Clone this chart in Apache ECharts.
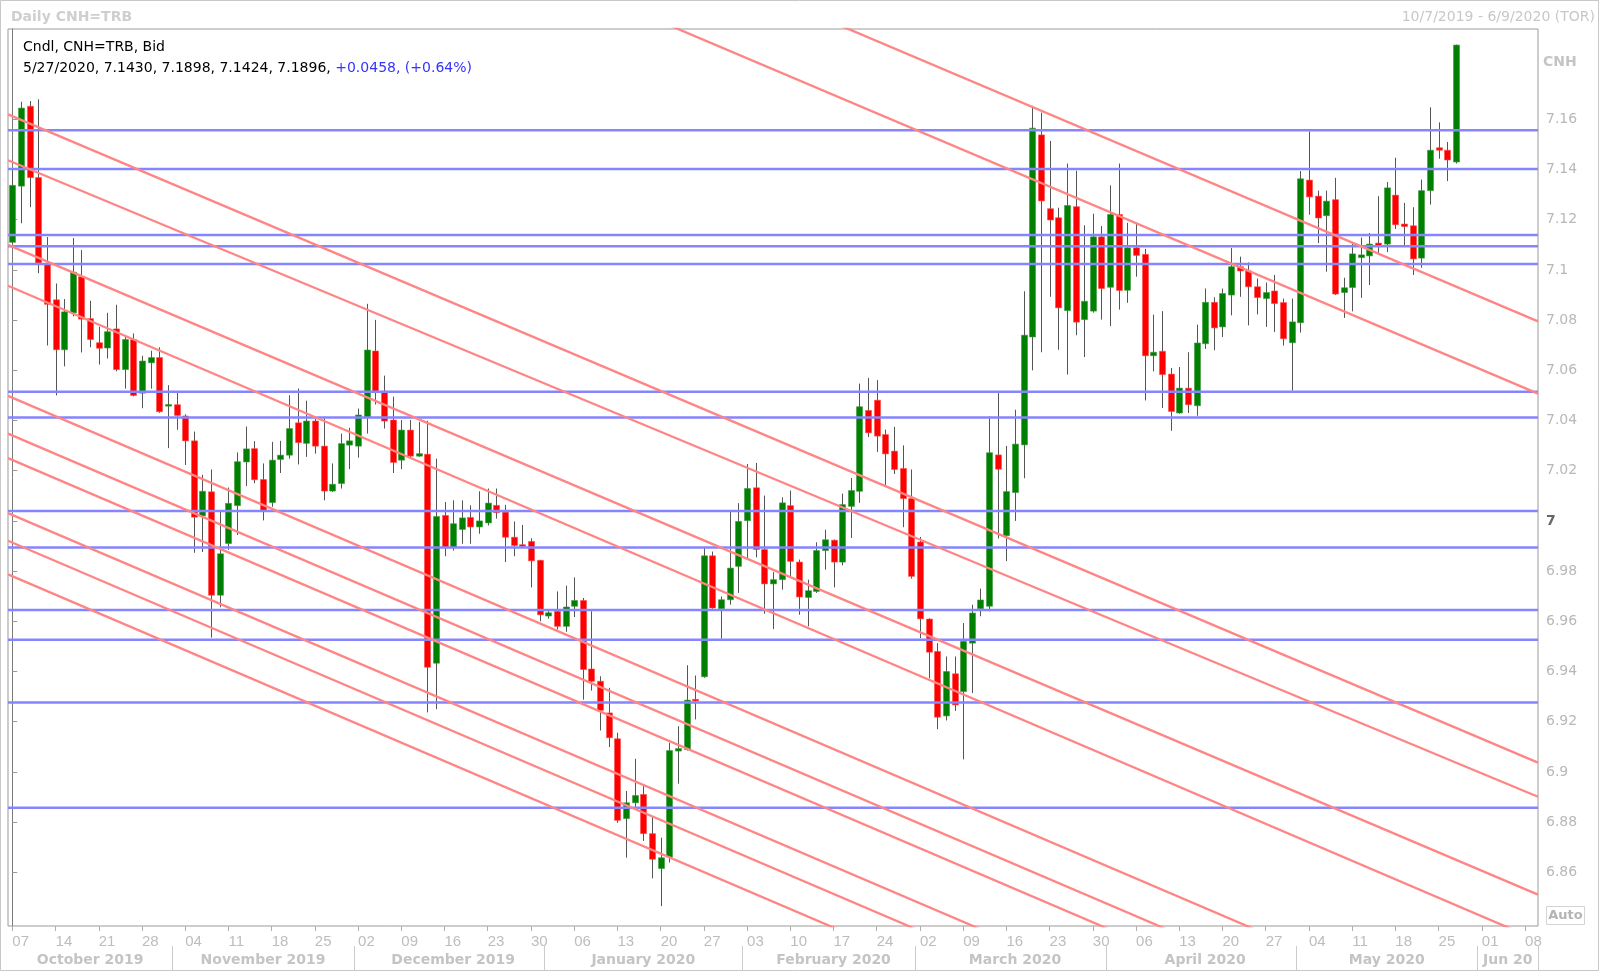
<!DOCTYPE html>
<html><head><meta charset="utf-8">
<script src="https://cdn.jsdelivr.net/npm/echarts@6/dist/echarts.min.js"></script>
<style>html,body{margin:0;padding:0;background:#fff}#c{width:1600px;height:972px}</style>
</head><body><div id="c"></div>
<script>
// ---------------- DATA ----------------
const dates = [
"2019-10-07","2019-10-08","2019-10-09","2019-10-10","2019-10-11","2019-10-14","2019-10-15","2019-10-16","2019-10-17","2019-10-18",
"2019-10-21","2019-10-22","2019-10-23","2019-10-24","2019-10-25","2019-10-28","2019-10-29","2019-10-30","2019-10-31",
"2019-11-01","2019-11-04","2019-11-05","2019-11-06","2019-11-07","2019-11-08","2019-11-11","2019-11-12","2019-11-13","2019-11-14","2019-11-15",
"2019-11-18","2019-11-19","2019-11-20","2019-11-21","2019-11-22","2019-11-25","2019-11-26","2019-11-27","2019-11-28","2019-11-29",
"2019-12-02","2019-12-03","2019-12-04","2019-12-05","2019-12-06","2019-12-09","2019-12-10","2019-12-11","2019-12-12","2019-12-13",
"2019-12-16","2019-12-17","2019-12-18","2019-12-19","2019-12-20","2019-12-23","2019-12-24","2019-12-25","2019-12-26","2019-12-27","2019-12-30","2019-12-31",
"2020-01-01","2020-01-02","2020-01-03","2020-01-06","2020-01-07","2020-01-08","2020-01-09","2020-01-10","2020-01-13","2020-01-14",
"2020-01-15","2020-01-16","2020-01-17","2020-01-20","2020-01-21","2020-01-22","2020-01-23","2020-01-24","2020-01-27","2020-01-28","2020-01-29","2020-01-30","2020-01-31",
"2020-02-03","2020-02-04","2020-02-05","2020-02-06","2020-02-07","2020-02-10","2020-02-11","2020-02-12","2020-02-13","2020-02-14",
"2020-02-17","2020-02-18","2020-02-19","2020-02-20","2020-02-21","2020-02-24","2020-02-25","2020-02-26","2020-02-27","2020-02-28",
"2020-03-02","2020-03-03","2020-03-04","2020-03-05","2020-03-06","2020-03-09","2020-03-10","2020-03-11","2020-03-12","2020-03-13",
"2020-03-16","2020-03-17","2020-03-18","2020-03-19","2020-03-20","2020-03-23","2020-03-24","2020-03-25","2020-03-26","2020-03-27","2020-03-30","2020-03-31",
"2020-04-01","2020-04-02","2020-04-03","2020-04-06","2020-04-07","2020-04-08","2020-04-09","2020-04-10","2020-04-13","2020-04-14",
"2020-04-15","2020-04-16","2020-04-17","2020-04-20","2020-04-21","2020-04-22","2020-04-23","2020-04-24","2020-04-27","2020-04-28","2020-04-29","2020-04-30",
"2020-05-01","2020-05-04","2020-05-05","2020-05-06","2020-05-07","2020-05-08","2020-05-11","2020-05-12","2020-05-13","2020-05-14",
"2020-05-15","2020-05-18","2020-05-19","2020-05-20","2020-05-21","2020-05-22","2020-05-25","2020-05-26","2020-05-27"
];
const futureDates = ["2020-05-28","2020-05-29","2020-06-01","2020-06-02","2020-06-03","2020-06-04","2020-06-05","2020-06-08","2020-06-09"];

const open = [
7.1110,7.1334,7.1652,7.1368,7.1021,7.0881,7.0682,7.0829,7.0973,7.0806,
7.0710,7.0689,7.0765,7.0603,7.0723,7.0509,7.0630,7.0651,7.0459,7.0463,
7.0418,7.0319,7.0020,7.0116,6.9704,6.9910,7.0061,7.0235,7.0288,7.0165,
7.0073,7.0245,7.0262,7.0391,7.0309,7.0398,7.0298,7.0119,7.0149,7.0302,
7.0298,7.0411,7.0677,7.0517,7.0402,7.0242,7.0362,7.0258,7.0266,6.9433,
7.0022,6.9893,6.9966,7.0014,6.9976,6.9992,7.0062,7.0035,6.9935,6.9904,
6.9918,6.9843,6.9621,6.9640,6.9580,6.9660,6.9683,6.9410,6.9361,6.9235,
6.9132,6.8814,6.8877,6.8910,6.8754,6.8615,6.8661,6.9083,6.9089,6.9287,
6.9379,6.9861,6.9650,6.9686,6.9819,7.0001,7.0132,6.9886,6.9749,6.9766,
7.0061,6.9836,6.9695,6.9719,6.9882,6.9923,6.9836,7.0058,7.0118,7.0440,
7.0481,7.0344,7.0278,7.0209,7.0089,6.9916,6.9609,6.9480,6.9223,6.9391,
6.9320,6.9513,6.9650,6.9660,7.0263,6.9941,7.0113,7.0303,7.0733,7.1538,
7.1244,7.1208,7.0838,7.1252,7.0802,7.0836,7.1132,7.0931,7.1221,7.0919,
7.1088,7.1062,7.0658,7.0676,7.0585,7.0430,7.0529,7.0459,7.0706,7.0871,
7.0773,7.0900,7.1013,7.0996,7.0933,7.0886,7.0916,7.0870,7.0710,7.0790,
7.1358,7.1294,7.1216,7.1280,7.0910,7.0930,7.1049,7.1056,7.1107,7.1103,
7.1298,7.1183,7.1176,7.1047,7.1316,7.1487,7.1477,7.1430
];
const high = [
7.1396,7.1670,7.1673,7.1680,7.1131,7.0946,7.0884,7.1127,7.1079,7.0877,
7.0774,7.0829,7.0861,7.0737,7.0747,7.0658,7.0678,7.0692,7.0541,7.0511,
7.0425,7.0356,7.0184,7.0205,7.0037,7.0133,7.0273,7.0376,7.0318,7.0229,
7.0315,7.0319,7.0501,7.0528,7.0479,7.0415,7.0415,7.0229,7.0348,7.0371,
7.0448,7.0865,7.0801,7.0579,7.0495,7.0402,7.0402,7.0395,7.0399,7.0248,
7.0075,7.0082,7.0082,7.0062,7.0118,7.0129,7.0129,7.0064,6.9998,6.9984,
6.9931,6.9845,6.9642,6.9719,6.9742,6.9775,6.9693,6.9640,6.9381,6.9335,
6.9156,6.8924,6.9052,6.8950,6.8824,6.8738,6.9116,6.9182,6.9425,6.9384,
6.9892,6.9878,6.9699,7.0038,7.0071,7.0227,7.0231,7.0101,6.9796,7.0094,
7.0121,6.9846,6.9766,6.9915,6.9965,6.9926,7.0109,7.0171,7.0547,7.0570,
7.0561,7.0364,7.0375,7.0301,7.0205,6.9936,6.9612,6.9513,6.9460,6.9460,
6.9593,6.9666,6.9730,7.0416,7.0509,7.0299,7.0443,7.0915,7.1654,7.1627,
7.1514,7.1248,7.1424,7.1395,7.1178,7.1224,7.1175,7.1337,7.1424,7.1188,
7.1188,7.1084,7.0822,7.0836,7.0609,7.0613,7.0672,7.0782,7.0926,7.0891,
7.0926,7.1087,7.1053,7.1030,7.0966,7.0950,7.0980,7.0886,7.0886,7.1394,
7.1552,7.1316,7.1316,7.1367,7.0969,7.1111,7.1129,7.1147,7.1294,7.1350,
7.1447,7.1267,7.1250,7.1360,7.1648,7.1588,7.1510,7.1898
];
const low = [
7.1105,7.1186,7.1250,7.0987,7.0699,7.0500,7.0616,7.0815,7.0671,7.0692,
7.0623,7.0647,7.0596,7.0527,7.0496,7.0449,7.0527,7.0431,7.0290,7.0363,
7.0223,6.9873,6.9876,6.9535,6.9656,6.9885,6.9944,7.0139,7.0150,7.0002,
7.0056,7.0191,7.0248,7.0225,7.0255,7.0268,7.0082,7.0115,7.0129,7.0206,
7.0252,7.0348,7.0464,7.0368,7.0191,7.0206,7.0248,7.0256,6.9237,6.9250,
6.9859,6.9882,6.9909,6.9909,6.9949,6.9982,7.0009,6.9836,6.9859,6.9892,
6.9735,6.9600,6.9611,6.9567,6.9558,6.9617,6.9288,6.9324,6.9165,6.9099,
6.8797,6.8658,6.8851,6.8725,6.8576,6.8465,6.8639,6.8953,6.9085,6.9209,
6.9375,6.9650,6.9531,6.9666,6.9713,6.9852,6.9855,6.9630,6.9569,6.9726,
6.9779,6.9626,6.9580,6.9713,6.9806,6.9735,6.9823,6.9932,7.0072,7.0334,
7.0275,7.0141,7.0187,6.9975,6.9770,6.9533,6.9373,6.9170,6.9205,6.9243,
6.9050,6.9314,6.9620,6.9640,6.9930,6.9840,7.0000,7.0170,7.0600,7.0672,
7.0893,7.0682,7.0583,7.0740,7.0653,7.0830,7.0802,7.0776,7.0842,7.0869,
7.0973,7.0480,7.0596,7.0450,7.0359,7.0427,7.0430,7.0419,7.0685,7.0680,
7.0733,7.0819,7.0893,7.0779,7.0823,7.0773,7.0753,7.0699,7.0519,7.0750,
7.1220,7.1107,7.0993,7.0900,7.0809,7.0835,7.0889,7.0940,7.1063,7.1071,
7.1163,7.1093,7.0980,7.1009,7.1260,7.1443,7.1354,7.1424
];
const close = [
7.1337,7.1645,7.1368,7.1028,7.0863,7.0682,7.0833,7.0991,7.0804,7.0723,
7.0688,7.0754,7.0603,7.0723,7.0500,7.0637,7.0651,7.0435,7.0462,7.0420,
7.0319,7.0015,7.0118,6.9704,6.9869,7.0070,7.0236,7.0287,7.0164,7.0042,
7.0242,7.0262,7.0368,7.0312,7.0398,7.0298,7.0119,7.0146,7.0308,7.0319,
7.0422,7.0681,7.0517,7.0398,7.0233,7.0362,7.0258,7.0268,6.9417,7.0018,
6.9893,6.9989,7.0012,6.9976,7.0000,7.0071,7.0033,6.9935,6.9902,6.9900,
6.9841,6.9626,6.9634,6.9580,6.9657,6.9683,6.9408,6.9361,6.9245,6.9136,
6.8807,6.8877,6.8906,6.8754,6.8652,6.8658,6.9085,6.9093,6.9286,6.9285,
6.9861,6.9653,6.9686,6.9812,6.9998,7.0129,6.9886,6.9749,6.9766,7.0072,
6.9839,6.9697,6.9722,6.9882,6.9925,6.9836,7.0065,7.0121,7.0455,7.0351,
7.0338,7.0267,7.0205,7.0089,6.9779,6.9610,6.9477,6.9218,6.9400,6.9267,
6.9520,6.9633,6.9685,7.0272,7.0206,7.0117,7.0306,7.0740,7.1565,7.1275,
7.1199,7.0849,7.1257,7.0792,7.0875,7.1132,7.0926,7.1221,7.0918,7.1088,
7.1058,7.0658,7.0672,7.0583,7.0436,7.0529,7.0463,7.0709,7.0871,7.0769,
7.0906,7.1013,7.0996,7.0933,7.0890,7.0910,7.0866,7.0726,7.0793,7.1363,
7.1291,7.1207,7.1274,7.0904,7.0929,7.1064,7.1060,7.1103,7.1096,7.1327,
7.1180,7.1173,7.1044,7.1316,7.1477,7.1477,7.1438,7.1896
];

// horizontal support / resistance levels (blue)
const levels = [7.1557,7.1402,7.1139,7.1094,7.1024,7.0515,7.0412,7.0040,6.9894,6.9645,6.9527,6.9277,6.8857];
// diagonal trend lines (red): value at left plot edge, value at right plot edge
const trendLines = [
  [7.3092,7.0507],[7.3380,7.0795],[7.1620,6.9037],[7.1437,6.8901],[7.1100,6.8511],[7.0937,6.8329],
  [7.0498,6.7890],[7.0348,6.7740],[7.0250,6.7642],[7.0031,6.7423],[6.9921,6.7313],[6.9787,6.7179]
];
const yTicks = [6.86,6.88,6.90,6.92,6.94,6.96,6.98,7.00,7.02,7.04,7.06,7.08,7.10,7.12,7.14,7.16];
const yMin = 6.8386, yMax = 7.1960;

// ---------------- BUILD ----------------
const FONT = '"DejaVu Sans", Verdana, sans-serif';
const axisDates = dates.concat(futureDates);
const N = axisDates.length;
const monthNames = ['January','February','March','April','May','June','July','August','September','October','November','December'];
const isMonday = s => new Date(s + 'T00:00:00Z').getUTCDay() === 1;
const monthStart = axisDates.map((d, i) => i > 0 && d.slice(0, 7) !== axisDates[i - 1].slice(0, 7));
const spans = {};
axisDates.forEach((d, i) => { const k = d.slice(0, 7); (spans[k] = spans[k] || []).push(i); });
const monthLabel = {};
Object.keys(spans).forEach(k => {
  const arr = spans[k];
  const mid = arr[Math.floor(arr.length / 2)];
  const y = k.slice(0, 4), m = +k.slice(5, 7) - 1;
  monthLabel[mid] = arr.length < 10 ? monthNames[m].slice(0, 3) + ' ' + y.slice(2) : monthNames[m] + ' ' + y;
});

const candleData = dates.map((d, i) => [i, open[i], high[i], low[i], close[i]]);
const last = dates.length - 1;
const chg = close[last] - close[last - 1];
const pct = chg / close[last - 1] * 100;
const dParts = dates[last].split('-');
const hdrDate = (+dParts[1]) + '/' + (+dParts[2]) + '/' + dParts[0];
const sgn = v => (v >= 0 ? '+' : '') ;
const hdrLine = hdrDate + ', ' + open[last].toFixed(4) + ', ' + high[last].toFixed(4) + ', ' + low[last].toFixed(4) + ', ' + close[last].toFixed(4) + ', ';
const hdrChg = sgn(chg) + chg.toFixed(4) + ', (' + sgn(pct) + pct.toFixed(2) + '%)';

const lineSeries = [];
levels.forEach(v => lineSeries.push({
  type: 'line', xAxisIndex: 2, yAxisIndex: 0, data: [[-0.5, v], [N - 0.5, v]],
  symbol: 'none', silent: true, clip: true, z: 4,
  lineStyle: { color: '#8585ff', width: 2.5 }
}));
trendLines.forEach(t => lineSeries.push({
  type: 'line', xAxisIndex: 2, yAxisIndex: 0, data: [[-0.5, t[0]], [N - 0.5, t[1]]],
  symbol: 'none', silent: true, clip: true, z: 4,
  lineStyle: { color: '#ff8585', width: 2.3 }
}));

const chart = echarts.init(document.getElementById('c'), null, { renderer: 'canvas' });
chart.setOption({
  animation: false,
  backgroundColor: '#ffffff',
  textStyle: { fontFamily: FONT },
  grid: { left: 8, right: 62, top: 29, bottom: 46, show: true, borderColor: '#9a9a9a', borderWidth: 1, backgroundColor: '#fff' },
  xAxis: [
    {
      type: 'category', data: axisDates, boundaryGap: true, position: 'bottom',
      axisLine: { show: false },
      axisTick: { show: true, alignWithLabel: true, length: 5, interval: (i, v) => isMonday(v), lineStyle: { color: '#b0b0b0' } },
      axisLabel: { show: true, interval: (i, v) => isMonday(v), formatter: v => v.slice(8, 10), align: 'left', margin: 8,
        color: '#bdbdbd', fontSize: 15, fontFamily: '"Liberation Sans Narrow", "Liberation Sans", sans-serif' },
      splitLine: { show: false }
    },
    {
      type: 'category', data: axisDates, boundaryGap: true, position: 'bottom', offset: 20,
      axisLine: { show: false },
      axisTick: { show: true, alignWithLabel: false, length: 24, interval: (i) => monthStart[i], lineStyle: { color: '#cccccc' } },
      axisLabel: { show: true, interval: (i) => monthLabel[i] !== undefined, formatter: (v, i) => monthLabel[i] || '',
        margin: 7, color: '#c4c4c4', fontSize: 14, fontWeight: 'bold', fontFamily: FONT },
      splitLine: { show: false }
    },
    { type: 'value', min: -0.5, max: N - 0.5, show: false }
  ],
  yAxis: [{
    type: 'value', position: 'right', min: yMin, max: yMax, scale: true,
    axisLine: { show: true, lineStyle: { color: '#7a7a7a' } },
    axisTick: { show: true, length: 5, customValues: yTicks, lineStyle: { color: '#9a9a9a' } },
    axisLabel: {
      show: true, customValues: yTicks, margin: 8, color: '#b8b8b8', fontSize: 14, fontFamily: FONT,
      formatter: v => { const s = String(Number(v.toFixed(2))); return s === '7' ? '{b|7}' : s; },
      rich: { b: { color: '#666666', fontWeight: 'bold', fontSize: 14, fontFamily: FONT } }
    },
    splitLine: { show: false }
  }],
  series: [
    {
      type: 'custom', xAxisIndex: 0, yAxisIndex: 0, data: candleData, clip: true, z: 3,
      encode: { x: 0, y: [1, 2, 3, 4] },
      renderItem: function (params, api) {
        const i = api.value(0), o = api.value(1), h = api.value(2), l = api.value(3), c = api.value(4);
        const pO = api.coord([i, o]), pC = api.coord([i, c]), pH = api.coord([i, h]), pL = api.coord([i, l]);
        const band = api.size([1, 0])[0];
        const w = Math.max(3, Math.round(band * 0.72));
        const xc = Math.round(pO[0]) + 0.5;
        let top = Math.min(pO[1], pC[1]);
        let hgt = Math.abs(pO[1] - pC[1]);
        if (hgt < 1.6) { top -= (1.6 - hgt) / 2; hgt = 1.6; }
        const up = c >= o;
        return {
          type: 'group', children: [
            { type: 'line', shape: { x1: xc, y1: pH[1], x2: xc, y2: pL[1] }, style: { stroke: '#555555', lineWidth: 1 } },
            { type: 'rect', shape: { x: xc - w / 2, y: top, width: w, height: hgt },
              style: { fill: up ? '#008000' : '#ff0000', stroke: up ? '#3d9a3d' : '#ff4a4a', lineWidth: 0.6 } }
          ]
        };
      }
    },
    {
      type: 'line', xAxisIndex: 2, yAxisIndex: 0, data: [], symbol: 'none', silent: true, z: 10,
      markLine: {
        symbol: 'none', silent: true, animation: false,
        data: [{ yAxis: close[last] }],
        lineStyle: { opacity: 0 },
        label: { show: true, position: 'end', distance: 1, formatter: close[last].toFixed(4),
          color: '#ffffff', backgroundColor: '#000000', fontWeight: 'bold', fontSize: 15, fontFamily: FONT,
          padding: [0, 2, 0, 2], lineHeight: 15 }
      }
    }
  ].concat(lineSeries),
  graphic: [
    { type: 'rect', silent: true, z: -10, shape: { x: 0.5, y: 0.5, width: 1598, height: 970 }, style: { fill: 'none', stroke: '#c8c8c8', lineWidth: 1 } },
    { type: 'text', left: 11, top: 10, silent: true, style: { text: 'Daily CNH=TRB', fontSize: 14, fontWeight: 'bold', fontFamily: FONT, fill: '#cfcfcf' } },
    { type: 'text', right: 5, top: 10, silent: true, style: { text: '10/7/2019 - 6/9/2020 (TOR)', fontSize: 14, fontFamily: FONT, fill: '#c8c8c8' } },
    { type: 'text', left: 23, top: 40, silent: true, z: 20, style: { text: 'Cndl, CNH=TRB, Bid', fontSize: 14, fontFamily: FONT, fill: '#000000' } },
    { type: 'text', left: 23, top: 61, silent: true, z: 20, style: {
        text: '{a|' + hdrLine + '}{b|' + hdrChg + '}', fontSize: 14, fontFamily: FONT,
        rich: { a: { fill: '#000000', fontSize: 14, fontFamily: FONT }, b: { fill: '#3434ff', fontSize: 14, fontFamily: FONT } } } },
    { type: 'text', left: 1543, top: 55, silent: true, style: { text: 'CNH', fontSize: 14, fontWeight: 'bold', fontFamily: FONT, fill: '#c4c4c4' } },
    { type: 'group', left: 1546, top: 906, silent: true, children: [
        { type: 'rect', shape: { x: 0, y: 0, width: 38, height: 18 }, style: { fill: '#ffffff', stroke: '#d4d4d4', lineWidth: 1 } },
        { type: 'text', x: 19, y: 9, style: { text: 'Auto', fontSize: 13, fontWeight: 'bold', fontFamily: FONT, fill: '#b4b4b4', align: 'center', verticalAlign: 'middle' } }
    ] }
  ]
});
</script>
</body></html>
